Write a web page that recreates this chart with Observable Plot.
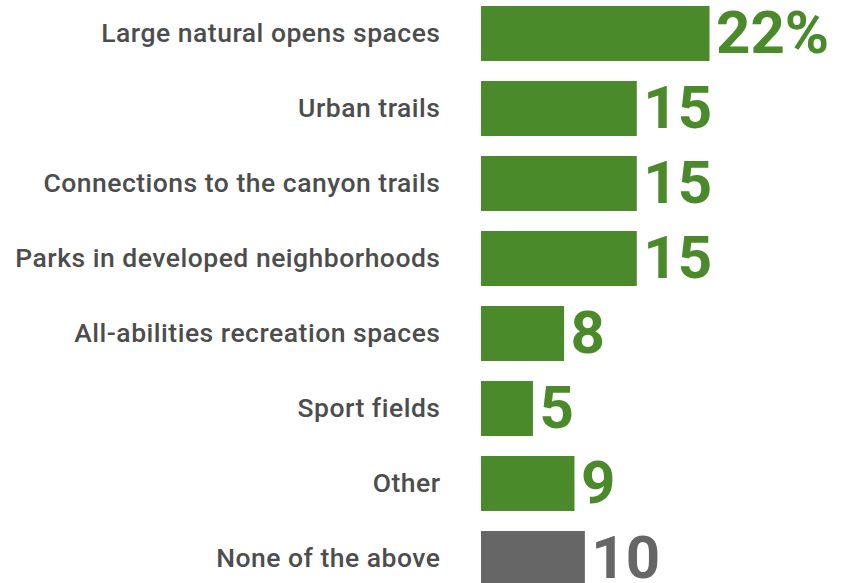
<!DOCTYPE html>
<html>
<head>
<meta charset="utf-8">
<script src="https://cdn.jsdelivr.net/npm/d3@7"></script>
<script src="https://cdn.jsdelivr.net/npm/@observablehq/plot@0.6"></script>
<style>
  html, body { margin: 0; padding: 0; background: #fff; }
  .cat-label text { letter-spacing: 0.5px; }
</style>
</head>
<body>
<div id="chart"></div>
<script>
const categories = [
  "Large natural opens spaces",
  "Urban trails",
  "Connections to the canyon trails",
  "Parks in developed neighborhoods",
  "All-abilities recreation spaces",
  "Sport fields",
  "Other",
  "None of the above"
];
const values = [22, 15, 15, 15, 8, 5, 9, 10];
const valueLabels = ["22%", "15", "15", "15", "8", "5", "9", "10"];
const groups = ["green", "green", "green", "green", "green", "green", "green", "gray"];

const data = categories.map((c, i) => ({category: c, value: values[i], label: valueLabels[i], group: groups[i]}));
const colors = {green: "#4a8a2a", gray: "#666666"};

const chart = Plot.plot({
  width: 856,
  height: 583,
  marginLeft: 0,
  marginRight: 0,
  marginTop: 0,
  marginBottom: 0,
  style: {fontFamily: "Roboto, sans-serif", background: "#fff"},
  x: {domain: [0, 22], range: [481, 709.5], axis: null},
  y: {domain: categories, range: [-4, 596], padding: 0, axis: null},
  marks: [
    Plot.barX(data, {
      y: "category", x: "value",
      fill: d => colors[d.group],
      insetTop: 10, insetBottom: 10
    }),
    Plot.text(data, {
      y: "category", x: 0,
      text: "category",
      textAnchor: "end",
      dx: -41,
      fontSize: 26.5,
      fontWeight: 500,
      fill: "#4d4d4d",
      className: "cat-label"
    }),
    Plot.text(data, {
      y: "category", x: "value",
      text: "label",
      textAnchor: "start",
      dx: 6,
      fontSize: 60,
      fontWeight: "bold",
      fill: d => colors[d.group]
    })
  ]
});
document.getElementById("chart").append(chart);
</script>
</body>
</html>
